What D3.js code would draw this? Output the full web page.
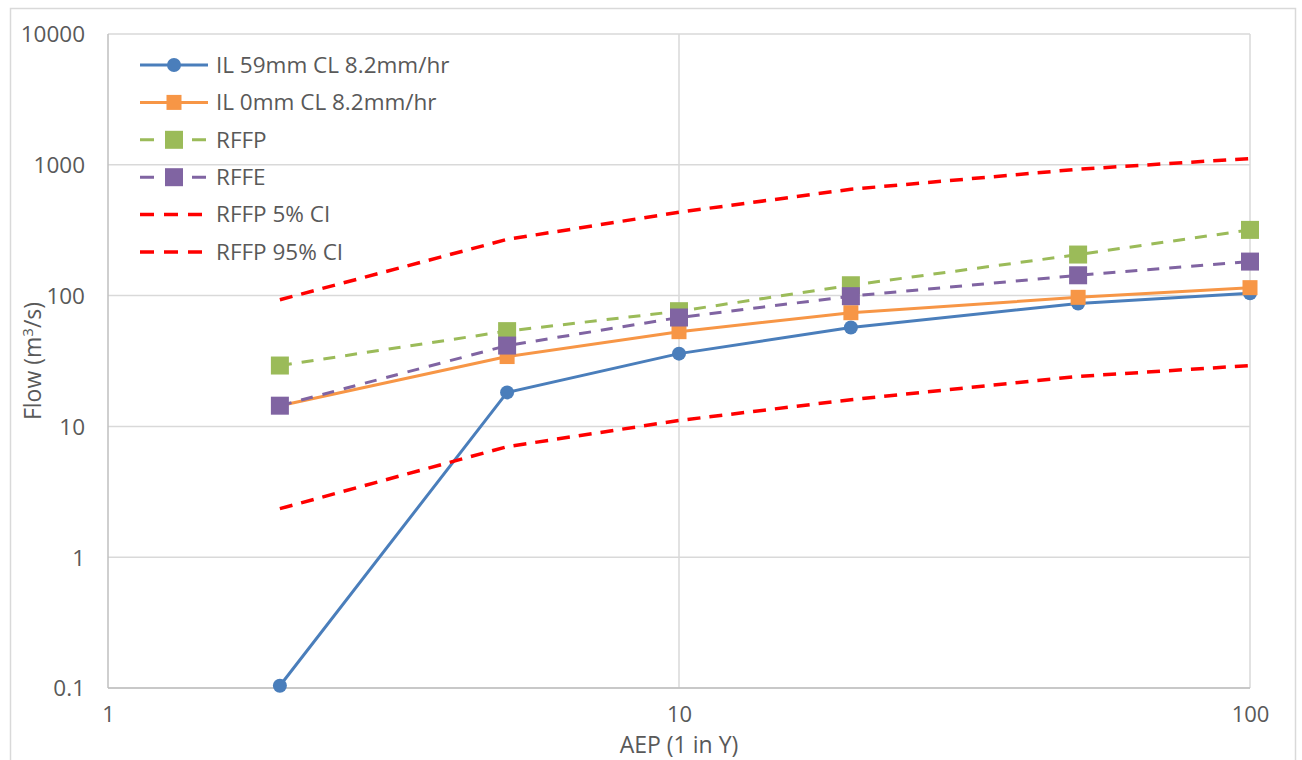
<!DOCTYPE html>
<html><head><meta charset="utf-8">
<script src="https://cdn.jsdelivr.net/npm/d3@7"></script>
<style>body{margin:0;background:#fff}svg text{font-family:"Open Sans",sans-serif;fill:#595959}</style>
</head><body>
<svg id="c" width="1302" height="760"></svg>
<script>
const aep = [2, 5, 10, 20, 50, 100];
const il59 = [0.104, 18.2, 36, 57, 87, 104];
const il0 = [14.4, 34.2, 53, 74, 97, 115];
const rffp = [29.2, 53.5, 76, 120, 206, 318];
const rffe = [14.4, 41.5, 68, 99, 143, 182];
const ci5 = [93, 269, 434, 650, 925, 1117];
const ci95 = [2.35, 7.0, 11.1, 16.0, 24.1, 29.2];
const yTicks = [0.1, 1, 10, 100, 1000, 10000];
const xTicks = [1, 10, 100];
const seriesNames = ["IL 59mm CL 8.2mm/hr","IL 0mm CL 8.2mm/hr","RFFP","RFFE","RFFP 5% CI","RFFP 95% CI"];

const series = [
  {name: seriesNames[0], values: il59, color: "#4a7ebb", dash: null, marker: "circle", w: 3},
  {name: seriesNames[1], values: il0, color: "#f79646", dash: null, marker: "square", size: 15, w: 3},
  {name: seriesNames[2], values: rffp, color: "#9bbb59", dash: "12,10", marker: "square", size: 18, w: 3},
  {name: seriesNames[3], values: rffe, color: "#8064a2", dash: "12,10", marker: "square", size: 18, w: 3},
  {name: seriesNames[4], values: ci5, color: "#ff0000", dash: "13,9", marker: null, w: 3.5},
  {name: seriesNames[5], values: ci95, color: "#ff0000", dash: "13,9", marker: null, w: 3.5}
];

const svg = d3.select("#c");
const L = 108, R = 1250, T = 34, B = 688;
const x = d3.scaleLog().domain([1, 100]).range([L, R]);
const y = d3.scaleLog().domain([0.1, 10000]).range([B, T]);

// outer border
svg.append("rect").attr("x", 10.5).attr("y", 8.5).attr("width", 1285).attr("height", 760)
  .attr("fill", "none").attr("stroke", "#d9d9d9").attr("stroke-width", 1.5);

// gridlines
const g = svg.append("g");
g.selectAll(".hg").data(yTicks).join("line")
  .attr("x1", L).attr("x2", R).attr("y1", d => y(d)).attr("y2", d => y(d))
  .attr("stroke", "#d9d9d9").attr("stroke-width", 1.5);
g.selectAll(".vg").data(xTicks.slice(1)).join("line")
  .attr("y1", T).attr("y2", B).attr("x1", d => x(d)).attr("x2", d => x(d))
  .attr("stroke", "#d9d9d9").attr("stroke-width", 1.5);
// axis lines
svg.append("line").attr("x1", L).attr("x2", L).attr("y1", T).attr("y2", B).attr("stroke", "#bfbfbf").attr("stroke-width", 1.5);
svg.append("line").attr("x1", L).attr("x2", R).attr("y1", B).attr("y2", B).attr("stroke", "#bfbfbf").attr("stroke-width", 1.5);

// y tick labels
const fmt = d => d < 1 ? String(d) : d3.format("d")(d);
svg.append("g").call(d3.axisLeft(y).tickValues(yTicks).tickFormat(fmt).tickSize(0).tickPadding(23))
  .attr("transform", `translate(${L},0)`)
  .call(a => a.select(".domain").remove())
  .call(a => a.selectAll("text").attr("font-size", 22.5).attr("dy", "0.35em").style("font-family", "'Open Sans',sans-serif").attr("fill", "#595959"));
// x tick labels
svg.append("g").call(d3.axisBottom(x).tickValues(xTicks).tickFormat(d3.format("d")).tickSize(0).tickPadding(18))
  .attr("transform", `translate(0,${B})`)
  .call(a => a.select(".domain").remove())
  .call(a => a.selectAll("text").attr("font-size", 22).style("font-family", "'Open Sans',sans-serif").attr("fill", "#595959"));

// axis titles
svg.append("text").attr("x", (L + R) / 2).attr("y", 753).attr("text-anchor", "middle")
  .attr("font-size", 23).text("AEP (1 in Y)");
svg.append("text").attr("transform", `translate(41,${(T + B) / 2}) rotate(-90)`).attr("text-anchor", "middle")
  .attr("font-size", 23).html('Flow (m<tspan dy="-8" font-size="15">3</tspan><tspan dy="8">/s)</tspan>');

// series lines
const line = d3.line().x((d, i) => x(aep[i])).y(d => y(d));
series.forEach(s => {
  svg.append("path").attr("d", line(s.values)).attr("fill", "none")
    .attr("stroke", s.color).attr("stroke-width", s.w)
    .attr("stroke-dasharray", s.dash).attr("stroke-linejoin", "round");
});
// markers
function drawMarker(sel, s, cx, cy) {
  if (s.marker === "circle") {
    sel.append("circle").attr("cx", cx).attr("cy", cy).attr("r", 7).attr("fill", s.color);
  } else if (s.marker === "square") {
    const sz = s.size;
    sel.append("rect").attr("x", cx - sz / 2).attr("y", cy - sz / 2).attr("width", sz).attr("height", sz).attr("fill", s.color);
  }
}
series.forEach(s => {
  if (!s.marker) return;
  const mg = svg.append("g");
  s.values.forEach((v, i) => drawMarker(mg, s, x(aep[i]), y(v)));
});

// legend
const lg = svg.append("g");
const ly0 = 65, ldy = 37.4;
series.forEach((s, i) => {
  const yy = ly0 + i * ldy;
  lg.append("line").attr("x1", 140).attr("x2", 208).attr("y1", yy).attr("y2", yy)
    .attr("stroke", s.color).attr("stroke-width", s.w)
    .attr("stroke-dasharray", s.dash ? (s.marker ? "14,12" : "14,10") : null);
  if (s.marker) drawMarker(lg, s, 174, yy);
  lg.append("text").attr("x", 216).attr("y", yy).attr("dy", "0.35em").attr("font-size", 22.5).text(s.name);
});
</script>
</body></html>
